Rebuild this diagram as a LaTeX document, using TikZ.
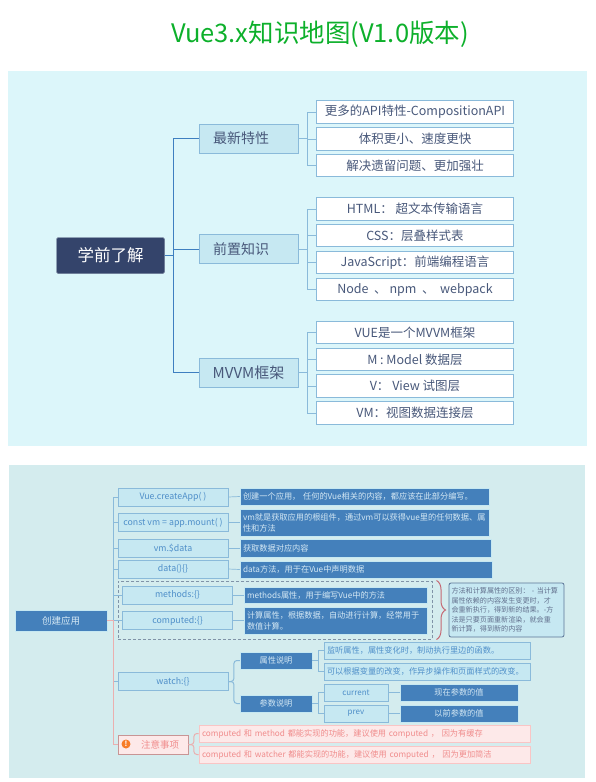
\documentclass[tikz,border=0pt]{standalone}
\usepackage{fontspec}
\usepackage{xcolor}
\usetikzlibrary{decorations.pathreplacing}
\setmainfont{Noto Sans CJK SC}
\definecolor{verdetitulo}{RGB}{13,176,43}
\definecolor{fundoum}{RGB}{220,246,250}
\definecolor{fundodois}{RGB}{212,236,238}
\definecolor{azulesc}{RGB}{52,68,107}
\definecolor{azulforte}{RGB}{68,128,187}
\definecolor{azulclaro}{RGB}{198,232,242}
\definecolor{azulborda}{RGB}{138,186,218}
\definecolor{azulramo}{RGB}{62,127,192}
\definecolor{textoazul}{RGB}{79,143,201}
\definecolor{textoesc}{RGB}{72,88,122}
\definecolor{textoclaro}{RGB}{212,232,244}
\definecolor{rosaclaro}{RGB}{253,233,233}
\definecolor{rosaborda}{RGB}{249,197,197}
\definecolor{rosatexto}{RGB}{240,140,140}
\definecolor{rosaligacao}{RGB}{235,175,175}
\definecolor{laranja}{RGB}{247,124,40}
\newcommand{\tam}[1]{\fontsize{#1}{11}\selectfont}
\tikzset{
    raiz/.style={draw=azulesc!70!white, fill=azulesc, text=white, rounded corners=1.5pt, minimum width=108pt, minimum height=36pt, inner sep=0pt, font=\tam{16.5}},
    ramo/.style={draw=azulborda, line width=1pt, fill=azulclaro, text=textoesc, minimum width=99pt, minimum height=29pt, inner sep=0pt, font=\tam{14}},
    folha/.style={draw=azulborda, line width=1pt, fill=white, text=textoesc, minimum width=197pt, minimum height=22.5pt, inner sep=0pt, font=\tam{12.5}},
    caixa/.style={draw=azulborda, line width=.8pt, fill=azulclaro, text=textoazul, minimum width=110pt, minimum height=18pt, inner sep=0pt, font=\tam{8.8}},
    forte/.style={draw=azulclaro, line width=.5pt, fill=azulforte, text=textoclaro, text width=#1, inner xsep=3pt, inner ysep=0pt, minimum height=17.5pt, align=left, font=\tam{8.2}},
    suave/.style={draw=azulborda, line width=.8pt, fill=azulclaro, text=textoazul, text width=#1, inner xsep=3pt, inner ysep=0pt, minimum height=17pt, align=left, font=\tam{8.2}},
    rosa/.style={draw=rosaborda, line width=.8pt, fill=rosaclaro, text=rosatexto, text width=#1, inner xsep=3pt, inner ysep=0pt, minimum height=17pt, align=left, font=\tam{8.2}},
    liga/.style={draw=azulramo, line width=1pt},
    ligb/.style={draw=azulborda, line width=1pt},
    ligr/.style={draw=rosaligacao, line width=1pt},
}

\begin{document}
\begin{tikzpicture}[x=1pt, y=-1pt]
    \useasboundingbox (0,0) rectangle (595,782);
    \fill[fundoum] (8,71) rectangle (587,446);
    \fill[fundodois] (9,465) rectangle (585,778);
    \node[text=verdetitulo, font=\tam{25.5}, inner sep=0pt] (titulo) at (320,34) {Vue3.x知识地图(V1.0版本)};

    % primeiro mapa
    \node[raiz] (raizum) at (110.5,255.5) {学前了解};
    \node[ramo] (novo) at (248.5,138.5) {\hspace*{-15pt}最新特性};
    \node[ramo] (previo) at (248.5,249) {\hspace*{-15pt}前置知识};
    \node[ramo, font=\tam{15}] (mvvm) at (248.5,372.5) {MVVM框架};
    \node[folha] (novoa) at (415,112) {更多的API特性-CompositionAPI};
    \node[folha] (novob) at (415,139) {体积更小、速度更快};
    \node[folha] (novoc) at (415,165.5) {解决遗留问题、更加强壮};
    \node[folha] (previoa) at (415,209) {HTML： 超文本传输语言};
    \node[folha] (previob) at (415,235.5) {CSS：层叠样式表};
    \node[folha] (previoc) at (415,262.5) {JavaScript：前端编程语言};
    \node[folha] (previod) at (415,289.5) {Node \ 、 npm \ 、 \ webpack};
    \node[folha] (mvvma) at (415,332.5) {VUE是一个MVVM框架};
    \node[folha] (mvvmb) at (415,359.5) {M : Model 数据层};
    \node[folha] (mvvmc) at (415,386) {V： View 试图层};
    \node[folha] (mvvmd) at (415,413) {VM：视图数据连接层};
    \foreach \alvo in {novo,previo,mvvm}
        \draw[liga] (raizum.east) -- ++(9,0) |- (\alvo.west);
    \foreach \alvo in {novoa,novob,novoc}
        \draw[ligb] (novo.east) -- ++(8.5,0) |- (\alvo.west);
    \foreach \alvo in {previoa,previob,previoc,previod}
        \draw[ligb] (previo.east) -- ++(8.5,0) |- (\alvo.west);
    \foreach \alvo in {mvvma,mvvmb,mvvmc,mvvmd}
        \draw[ligb] (mvvm.east) -- ++(8.5,0) |- (\alvo.west);

    % segundo mapa
    \node[draw=textoesc!60!fundodois, dash pattern=on 3pt off 2pt, line width=1pt, minimum width=314pt, minimum height=58pt, inner sep=0pt] (grupo) at (275,610) {};
    \node[draw=azulclaro, fill=azulforte, text=textoclaro, minimum width=92pt, minimum height=21pt, inner sep=0pt, font=\tam{9.5}] (raizdois) at (61,620.5) {创建应用};
    \node[caixa] (app) at (173,497) {Vue.createApp( )};
    \node[caixa] (montar) at (173,522.5) {const vm = app.mount( )};
    \node[caixa] (dados) at (173,548) {vm.\$data};
    \node[caixa] (funcao) at (173,569) {data()\{\}};
    \node[caixa] (metodos) at (177.5,595) {methods:\{\}};
    \node[caixa] (calculo) at (177.5,620.5) {computed:\{\}};
    \node[caixa] (observa) at (173,681.5) {watch:\{\}};
    \node[forte=243pt] (appd) at (364.5,496.5) {创建一个应用， 任何的Vue相关的内容，都应该在此部分编写。};
    \node[forte=243pt, minimum height=27pt] (montard) at (364.5,522.5) {vm就是获取应用的根组件，通过vm可以获得vue里的任何数据、属\\性和方法};
    \node[forte=245pt] (dadosd) at (365.5,548) {获取数据对应内容};
    \node[forte=246pt] (funcaod) at (366,569.5) {data方法，用于在Vue中声明数据};
    \node[forte=177pt, minimum height=16pt] (metodosd) at (335.5,595) {methods属性，用于编写Vue中的方法};
    \node[forte=177pt, minimum height=27pt] (calculod) at (335.5,620.5) {计算属性，根据数据，自动进行计算，经常用于\\数值计算。};
    \node[draw=textoesc!70!azulborda, line width=.8pt, rounded corners=2pt, fill=azulclaro, text=textoesc!85!white, text width=110pt, inner xsep=2.5pt, inner ysep=0pt, minimum height=54pt, align=left, font=\fontsize{7.1}{9.6}\selectfont] (nota) at (506.5,610) {方法和计算属性的区别： - 当计算\\属性依赖的内容发生变更时，才\\会重新执行，得到新的结果。-方\\法是只要页面重新渲染，就会重\\新计算，得到新的内容};
    \draw[draw=red!55!textoesc!70!white, line width=1pt, decorate, decoration={brace, amplitude=9pt}] ([xshift=4pt]grupo.north east) -- ([xshift=4pt]grupo.south east);
    \node[forte=66pt, align=center, minimum height=17pt] (attr) at (276,660.5) {属性说明};
    \node[forte=66pt, align=center, minimum height=17pt] (param) at (276,703.5) {参数说明};
    \node[suave=200pt] (attra) at (427,650.5) {监听属性，属性变化时，制动执行里边的函数。};
    \node[suave=200pt] (attrb) at (427,671.5) {可以根据变量的改变，作异步操作和页面样式的改变。};
    \node[caixa, minimum width=64pt, minimum height=17pt, font=\tam{8}] (atual) at (356,692.5) {current};
    \node[caixa, minimum width=64pt, minimum height=17pt, font=\tam{8}] (prev) at (356,713.5) {prev};
    \node[forte=112pt, align=center, minimum height=17pt] (atuald) at (459,692.5) {现在参数的值};
    \node[forte=112pt, align=center, minimum height=17pt] (prevd) at (459,713.5) {以前参数的值};
    \node[draw=rosaligacao!85!black, line width=.8pt, fill=rosaclaro, text=rosatexto, minimum width=70pt, minimum height=19pt, inner sep=0pt, font=\tam{9.5}] (aviso) at (153,744.5) {\hspace*{14pt}注意事项};
    \node[circle, fill=laranja, text=white, inner sep=0pt, minimum size=9pt, font=\bfseries\tam{7}] (icone) at (126,744) {!};
    \node[rosa=325pt] (avisoa) at (364.5,733.5) {computed 和 method 都能实现的功能，建议使用 computed ， 因为有缓存};
    \node[rosa=325pt] (avisob) at (364.5,754.5) {computed 和 watcher 都能实现的功能，建议使用 computed ， 因为更加简洁};
    \foreach \alvo in {app,montar,dados,funcao,metodos,calculo,observa}
        \draw[ligb] (raizdois.east) -- ++(6,0) |- (\alvo.west);
    \draw[ligr] (raizdois.east) -- ++(6,0) |- (aviso.west);
    \draw[ligb, line width=.7pt] (app.east) -- (appd.west);
    \draw[ligb, line width=.7pt] (montar.east) -- (montard.west);
    \draw[ligb, line width=.7pt] (dados.east) -- (dadosd.west);
    \draw[ligb, line width=.7pt] (funcao.east) -- (funcaod.west);
    \draw[ligb, line width=.7pt] (metodos.east) -- (metodosd.west);
    \draw[ligb, line width=.7pt] (calculo.east) -- (calculod.west);
    \draw[ligb, rounded corners=3pt] (observa.east) -- ++(5.5,0) |- (attr.west);
    \draw[ligb, rounded corners=3pt] (observa.east) -- ++(5.5,0) |- (param.west);
    \foreach \alvo in {attra,attrb}
        \draw[ligb, line width=.7pt] (attr.east) -- ++(6,0) |- (\alvo.west);
    \foreach \alvo in {atual,prev}
        \draw[ligb, line width=.7pt] (param.east) -- ++(6,0) |- (\alvo.west);
    \draw[ligb, line width=.7pt] (atual.east) -- (atuald.west);
    \draw[ligb, line width=.7pt] (prev.east) -- (prevd.west);
    \foreach \alvo in {avisoa,avisob}
        \draw[ligr, rounded corners=3pt] (aviso.east) -- ++(5.5,0) |- (\alvo.west);
\end{tikzpicture}
\end{document}
